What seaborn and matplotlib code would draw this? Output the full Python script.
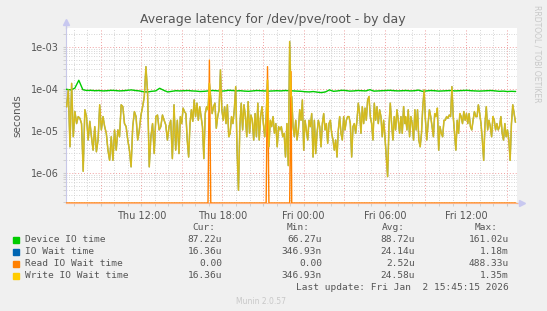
import numpy as np
import pandas as pd
import matplotlib
matplotlib.use("Agg")
import matplotlib.pyplot as plt
import matplotlib.dates as mdates
import matplotlib.ticker as mticker
import seaborn as sns

# ---------------- data (microseconds) ----------------
seg_starts = ["2026-01-01 06:29", "2026-01-01 14:53", "2026-01-01 23:07", "2026-01-02 07:32"]
seg_ends = ["2026-01-01 14:47", "2026-01-01 23:04", "2026-01-02 07:29", "2026-01-02 15:39"]

write_us_a = [38, 95, 4.2, 136, 7.3, 29, 15, 22, 20, 15, 1.1, 32, 22, 6.1, 17, 7.3, 3.5, 12.7, 3.2, 6.1,
              42, 10.6, 22, 12.7, 8.8, 3.5, 2.0, 7.3, 2.0, 10.6, 3.5, 10.6, 7.3, 42, 38, 15, 12.7, 6.1, 3.5, 1.4,
              12.7, 29, 22, 6.1, 10.6, 24, 38, 66, 340, 79, 1.4, 7.3, 15, 2.9, 22, 24, 10.6, 12.7, 24, 18,
              14, 6.1, 12.7, 18, 2.2, 42, 3.5, 18, 2.9]
write_us_b = [22, 15, 35, 29, 26, 6.1, 2.4, 15, 32, 17, 55, 22, 46, 18, 38, 22, 12.7, 2.2, 26, 38,
              32, 136, 60, 26, 38, 46, 11.6, 22, 32, 283, 32, 18, 38, 15, 42, 7.3, 8.8, 22, 15, 32,
              114, 3.5, 0.39, 12.7, 46, 10.6, 42, 22, 7.3, 50, 8.8, 24, 18, 6.1, 26, 7.3, 46, 6.1, 22, 38,
              15, 7.3, 22, 164, 4.2, 18, 12.7, 22, 8.8, 15, 4.2, 12.7, 10.6, 12.7, 7.3, 8.8, 2.4, 15, 1.5, 1350,
              66]
write_us_c = [66, 12.7, 7.3, 18, 6.1, 10.6, 32, 18, 55, 3.5, 18, 10.6, 6.1, 18, 12.7, 26, 2.4, 18, 2.9, 8.8,
              18, 12.7, 4.2, 15, 26, 10.6, 15, 5.1, 15, 18, 8.8, 6.1, 3.5, 6.1, 2.4, 10.6, 22, 8.8, 6.1, 22,
              10.6, 18, 22, 22, 15, 2.4, 12.7, 15, 8.8, 18, 46, 26, 8.8, 38, 15, 35, 18, 55, 66, 22,
              15, 6.1, 46, 18, 38, 15, 32, 22, 7.3, 18, 7.3, 2.4, 0.82, 12.7, 46, 15, 6.1, 22, 10.6, 32,
              18, 8.8, 22, 8.8, 38, 15]
write_us_d = [22, 10.6, 32, 7.3, 22, 15, 6.1, 32, 10.6, 32, 6.1, 4.2, 8.8, 38, 95, 18, 6.1, 15, 32, 22,
              12.7, 7.3, 26, 22, 35, 3.5, 12.7, 8.8, 7.3, 18, 18, 22, 20, 24, 22, 114, 22, 8.8, 3.5, 18,
              8.8, 26, 22, 15, 29, 18, 26, 15, 26, 12.7, 10.6, 18, 29, 22, 22, 42, 26, 15, 6.1, 2.0,
              15, 38, 10.6, 18, 12.7, 7.3, 22, 18, 10.6, 15, 10.6, 12.7, 22, 8.8, 6.1, 15, 7.3, 10.6, 6.1, 2.0,
              15, 42, 26, 16.36]

device_us = [98, 95, 104, 161, 96, 92, 93, 91, 92, 90, 91, 93, 92, 90, 91, 93, 95, 92, 90, 86, 85, 88, 90, 104, 93, 85, 88, 91,
             90, 91, 92, 90, 89, 87, 88, 90, 92, 91, 89, 90, 93, 92, 90, 91, 89, 88, 90, 92, 91, 90, 89, 90, 91, 90, 92, 91,
             90, 89, 88, 86, 85, 87, 84, 82, 85, 95, 88, 90, 93, 92, 89, 90, 92, 91, 90, 96, 89, 90, 91, 92, 93, 91, 90, 91,
             92, 90, 91, 94, 88, 90, 92, 91, 89, 90, 91, 92, 90, 91, 92, 93, 91, 90, 89, 90, 91, 92, 90, 88, 89, 87, 88, 87.22]

read_spike_times = ["2026-01-01 17:02", "2026-01-01 21:20", "2026-01-01 23:02"]
read_spike_us = [488.33, 340, 260]

legend_names = ["Device IO time", "IO Wait time", "Read IO Wait time", "Write IO Wait time"]
legend_cur = ["87.22u", "16.36u", "0.00", "16.36u"]
legend_min = ["66.27u", "346.93n", "0.00", "346.93n"]
legend_avg = ["88.72u", "24.14u", "2.52u", "24.58u"]
legend_max = ["161.02u", "1.18m", "488.33u", "1.35m"]
colors = ["#00CC00", "#0066B3", "#FF8000", "#FFCC00"]

# ---------------- build frames ----------------
write_segs = [write_us_a, write_us_b, write_us_c, write_us_d]
t_parts = [pd.date_range(s, e, periods=len(v)) for s, e, v in zip(seg_starts, seg_ends, write_segs)]
t_write = t_parts[0].append(t_parts[1:])
write_s = np.concatenate([np.array(v, float) for v in write_segs]) * 1e-6
df_write = pd.DataFrame({"t": t_write, "v": write_s})
df_iow = pd.DataFrame({"t": t_write, "v": write_s})

ylo, yhi = 1.93e-7, 2.83e-3
read_s = np.zeros(len(t_write))
for ts, val in zip(read_spike_times, read_spike_us):
    i = int(np.argmin(np.abs((t_write - pd.Timestamp(ts)).total_seconds())))
    read_s[i] = val * 1e-6
df_read = pd.DataFrame({"t": t_write, "v": np.where(read_s > 0, read_s, ylo)})

t_dev = pd.date_range(seg_starts[0], seg_ends[-1], periods=len(device_us))
df_dev = pd.DataFrame({"t": t_dev, "v": np.array(device_us) * 1e-6})

# ---------------- figure ----------------
W, H = 547, 311
fig = plt.figure(figsize=(W / 100, H / 100), dpi=100, facecolor="#F0F0F0")
L, R, T, B = 66, 517, 28, 203
ax = fig.add_axes([L / W, 1 - B / H, (R - L) / W, (B - T) / H])
ax.set_facecolor("white")

sns.lineplot(data=df_dev, x="t", y="v", ax=ax, color=colors[0], lw=1.0, estimator=None, legend=False, zorder=3)
sns.lineplot(data=df_iow, x="t", y="v", ax=ax, color=colors[1], lw=0.9, estimator=None, legend=False, zorder=3)
sns.lineplot(data=df_read, x="t", y="v", ax=ax, color=colors[2], lw=1.0, estimator=None, legend=False, zorder=4)
sns.lineplot(data=df_write, x="t", y="v", ax=ax, color=colors[3], lw=1.15, alpha=0.82, estimator=None, legend=False, zorder=5)

ax.set_yscale("log")
ax.set_ylim(ylo, yhi)
ax.set_xlim(pd.Timestamp("2026-01-01 06:26"), pd.Timestamp("2026-01-02 15:46"))

# grids
ax.yaxis.set_major_locator(mticker.LogLocator(base=10, numticks=20))
ax.yaxis.set_minor_locator(mticker.LogLocator(base=10, subs=np.arange(2, 10), numticks=20))
ax.yaxis.set_major_formatter(mticker.FuncFormatter(lambda v, p: f"{v:.0e}"))
ax.yaxis.set_minor_formatter(mticker.NullFormatter())
ax.xaxis.set_major_locator(mdates.HourLocator(byhour=range(0, 24, 3)))
ax.xaxis.set_minor_locator(mdates.HourLocator(interval=1))
ax.xaxis.set_major_formatter(mticker.FuncFormatter(
    lambda v, p: mdates.num2date(v).strftime("%a %H:%M") if mdates.num2date(v).hour % 6 == 0 else ""))

ax.grid(which="major", color="#F0A0A0", linestyle=(0, (1, 2)), lw=0.7, zorder=1)
ax.grid(which="minor", color="#C8C8C8", linestyle=(0, (1, 2)), lw=0.6, zorder=0)
ax.set_axisbelow(True)

for s in ["top", "right"]:
    ax.spines[s].set_visible(False)
ax.spines["left"].set_color("#C8C8E8")
ax.spines["bottom"].set_color("#FFB080")
ax.tick_params(axis="both", which="both", length=2, color="#CCCCCC", labelcolor="#555555", labelsize=7, pad=3)
ax.tick_params(axis="x", which="major", pad=4)
ax.set_xlabel("")
ax.set_ylabel("seconds", fontsize=7.5, color="#555555", labelpad=6)

# axis arrows
ax.plot([0, 0], [1.0, 1.035], transform=ax.transAxes, color="#C8C8E8", lw=1, clip_on=False)
ax.plot([0], [1.035], marker="^", ms=4, color="#C8C8F0", transform=ax.transAxes, clip_on=False)
ax.plot([1.0, 1.01], [0, 0], transform=ax.transAxes, color="#C8C8E8", lw=1, clip_on=False)
ax.plot([1.01], [0], marker=">", ms=4, color="#C8C8F0", transform=ax.transAxes, clip_on=False)

fig.text(273 / W, 1 - 19 / H, "Average latency for /dev/pve/root - by day", ha="center", va="center",
         fontsize=9, color="#555555")
fig.text(537 / W, 1 - 5 / H, "RRDTOOL / TOBI OETIKER", rotation=270, ha="center", va="top",
         fontsize=5.5, color="#C8C8C8")

# legend block
mono = "DejaVu Sans Mono"
fs = 6.8
def fy(y):
    return 1 - y / H

hdr_y = 228
for xr, lab in zip([215, 310, 405, 498], ["Cur:", "Min:", "Avg:", "Max:"]):
    fig.text(xr / W, fy(hdr_y), lab, ha="right", va="center", family=mono, fontsize=fs, color="#555555")
rows_y = [240, 252, 264, 276]
for i in range(4):
    y = rows_y[i]
    fig.patches.append(plt.Rectangle((13 / W, fy(y) - 2.7 / H), 5.5 / W, 5.5 / H, transform=fig.transFigure,
                                     color=colors[i], figure=fig))
    fig.text(25 / W, fy(y), legend_names[i], ha="left", va="center", family=mono, fontsize=fs, color="#555555")
    for xr, col in zip([222, 322, 415, 509], [legend_cur, legend_min, legend_avg, legend_max]):
        fig.text(xr / W, fy(y), col[i], ha="right", va="center", family=mono, fontsize=fs, color="#555555")
fig.text(509 / W, fy(288), "Last update: Fri Jan  2 15:45:15 2026", ha="right", va="center",
         family=mono, fontsize=fs, color="#555555")
fig.text(261 / W, fy(301), "Munin 2.0.57", ha="center", va="center", fontsize=5.5, color="#C8C8C8")

fig.savefig("out.png", dpi=100, facecolor=fig.get_facecolor())
